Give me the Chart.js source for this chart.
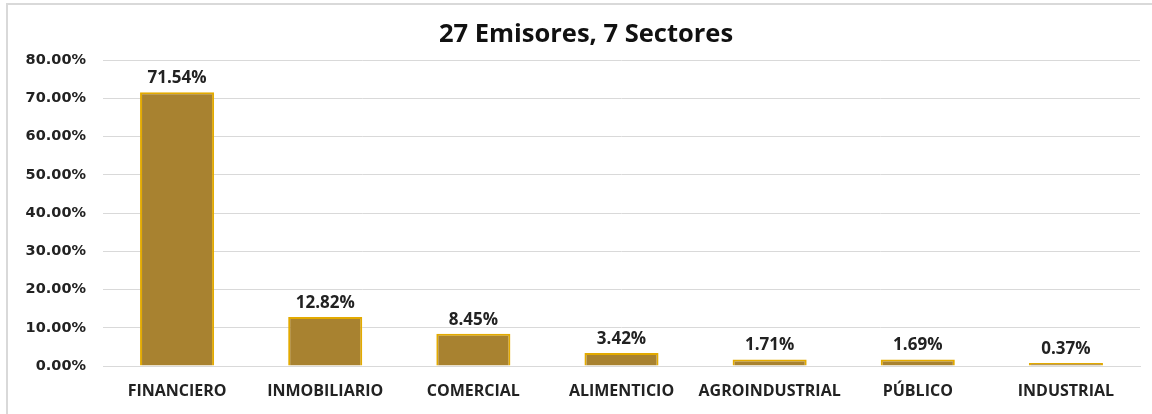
<!DOCTYPE html>
<html>
<head>
<meta charset="utf-8">
<script src="https://cdn.jsdelivr.net/npm/chart.js@4.4.1/dist/chart.umd.min.js"></script>
<style>
  html, body { margin: 0; padding: 0; background: #fff; }
  #wrap { position: relative; width: 1152px; height: 414px; overflow: hidden; }
  #frame { position: absolute; left: 6px; top: 3px; width: 1160px; height: 420px; border: 2px solid #d9d9d9; box-sizing: border-box; }
  canvas { position: absolute; left: 0; top: 0; }
</style>
</head>
<body>
<div id="wrap">
  <div id="frame"></div>
  <canvas id="c" width="1152" height="414"></canvas>
</div>
<script>
const categories = ['FINANCIERO', 'INMOBILIARIO', 'COMERCIAL', 'ALIMENTICIO', 'AGROINDUSTRIAL', 'PÚBLICO', 'INDUSTRIAL'];
const shares = [71.54, 12.82, 8.45, 3.42, 1.71, 1.69, 0.37];
const yTicks = [0, 10, 20, 30, 40, 50, 60, 70, 80];
const titleText = '27 Emisores, 7 Sectores';

const FONT = "'Open Sans', 'Noto Sans', sans-serif";
const YFONT = "'DejaVu Sans', 'Open Sans', sans-serif";

const labelPlugin = {
  id: 'barLabels',
  afterDatasetsDraw(chart) {
    const ctx = chart.ctx;
    const meta = chart.getDatasetMeta(0);
    ctx.save();
    ctx.font = "bold 17px " + FONT;
    ctx.fillStyle = '#222';
    ctx.textAlign = 'center';
    ctx.textBaseline = 'middle';
    meta.data.forEach((bar, i) => {
      const v = chart.data.datasets[0].data[i];
      ctx.fillText(v.toFixed(2) + '%', bar.x, bar.y - 14);
    });
    // title
    ctx.font = "bold 25.5px " + FONT;
    ctx.fillStyle = '#111';
    ctx.fillText(titleText, 586, 35);
    ctx.restore();
  }
};

new Chart(document.getElementById('c'), {
  type: 'bar',
  data: {
    labels: categories,
    datasets: [{
      data: shares,
      backgroundColor: '#a88230',
      borderColor: '#e3aa00',
      borderWidth: 2,
      minBarLength: 3,
      categoryPercentage: 1,
      barPercentage: 0.5
    }]
  },
  options: {
    responsive: false,
    animation: false,
    layout: { padding: { left: 8, right: 12, top: 60, bottom: 0 } },
    plugins: {
      legend: { display: false },
      tooltip: { enabled: false },
      title: { display: false }
    },
    scales: {
      y: {
        min: 0, max: 80,
        afterBuildTicks(scale) { scale.ticks = yTicks.map(v => ({ value: v })); },
        afterFit(scale) { scale.width = 95; },
        border: { display: false },
        grid: { color: '#d9d9d9', lineWidth: 1, drawTicks: false },
        ticks: {
          padding: 17,
          color: '#222',
          font: { family: YFONT, size: 14.5, weight: 'bold' },
          callback: v => v.toFixed(2) + '%'
        }
      },
      x: {
        afterFit(scale) { scale.height = 48; },
        border: { display: true, color: '#d9d9d9', width: 1 },
        grid: { display: false },
        ticks: {
          padding: 8,
          color: '#222',
          maxRotation: 0,
          autoSkip: false,
          font: { family: FONT, size: 16, weight: 'bold' }
        }
      }
    }
  },
  plugins: [labelPlugin]
});
</script>
</body>
</html>
